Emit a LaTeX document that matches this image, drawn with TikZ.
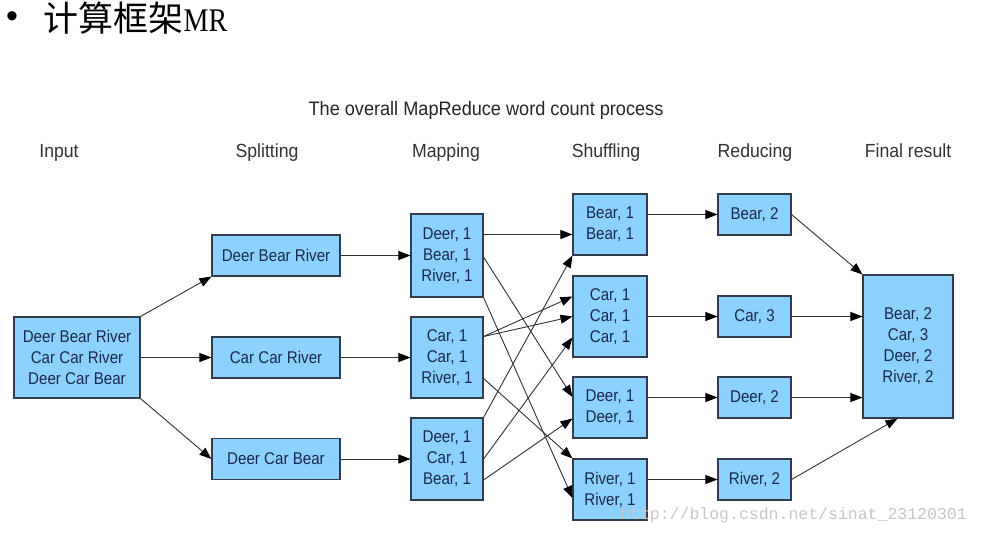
\documentclass[tikz,border=0pt]{standalone}
\usepackage{fontspec}
\setmainfont{Liberation Sans}
\newfontfamily\cjk{Noto Sans CJK SC}
\newfontfamily\mrfont[FakeStretch=0.85]{Liberation Serif}
\newfontfamily\boxfont[FakeStretch=0.89]{Liberation Sans}
\newfontfamily\hdrfont[FakeStretch=0.93]{Liberation Sans}
\newfontfamily\wmfont{Liberation Mono}
\usetikzlibrary{arrows.meta,calc}
\definecolor{boxfill}{RGB}{140,209,255}
\definecolor{boxline}{RGB}{50,60,75}
\definecolor{boxtext}{RGB}{28,40,75}
\definecolor{linec}{RGB}{50,50,50}
\begin{document}
\begin{tikzpicture}[x=1pt,y=-1pt,
  box/.style={draw=boxline, fill=boxfill, line width=1.1pt, inner sep=0pt, align=center,
    text=boxtext, font=\boxfont\fontsize{17}{21}\selectfont},
  conn/.style={draw=linec, line width=0.9pt, -{Triangle[length=12pt,width=9pt,color=black]}},
  hdr/.style={font=\hdrfont\fontsize{19}{22}\selectfont, text=black!80, inner sep=0pt, anchor=base}]
\fill[white] (0,0) rectangle (981,533);
\useasboundingbox (0,0) rectangle (981,533);

% heading
\node[inner sep=0pt, font=\fontsize{34}{34}\selectfont] (bul) at (12,20) {•};
\node[anchor=base west, inner sep=0pt, font=\cjk\fontsize{35}{35}\selectfont] (ttl) at (43,31) {计算框架};
\node[anchor=base west, inner sep=0pt, font=\mrfont\fontsize{33}{33}\selectfont] (mr) at (ttl.base east) {MR};

% titles
\node[inner sep=0pt, anchor=base, font=\hdrfont\fontsize{19.5}{22}\selectfont, text=black!85] (title) at (486,115) {The overall MapReduce word count process};
\node[hdr] (hin) at (59,157) {Input};
\node[hdr] (hsp) at (267,157) {Splitting};
\node[hdr] (hma) at (446,157) {Mapping};
\node[hdr] (hsh) at (606,157) {Shuffling};
\node[hdr] (hre) at (755,157) {Reducing};
\node[hdr] (hfi) at (908,157) {Final result};

% boxes
\node[box, minimum width=126pt, minimum height=81pt] (in) at (77,357.5) {Deer Bear River\\Car Car River\\Deer Car Bear};

\node[box, minimum width=128pt, minimum height=41pt] (s1) at (276,255.5) {Deer Bear River};
\node[box, minimum width=128pt, minimum height=41pt] (s2) at (276,357.5) {Car Car River};
\node[box, minimum width=128pt, minimum height=41pt] (s3) at (276,459) {Deer Car Bear};

\node[box, minimum width=72pt, minimum height=83pt] (m1) at (447,255.5) {Deer, 1\\Bear, 1\\River, 1};
\node[box, minimum width=72pt, minimum height=81pt] (m2) at (447,357.5) {Car, 1\\Car, 1\\River, 1};
\node[box, minimum width=72pt, minimum height=82pt] (m3) at (447,459) {Deer, 1\\Car, 1\\Bear, 1};

\node[box, minimum width=74pt, minimum height=61pt] (sh1) at (610,224.5) {Bear, 1\\Bear, 1};
\node[box, minimum width=74pt, minimum height=81pt] (sh2) at (610,316.5) {Car, 1\\Car, 1\\Car, 1};
\node[box, minimum width=74pt, minimum height=61pt] (sh3) at (610,407.5) {Deer, 1\\Deer, 1};
\node[box, minimum width=74pt, minimum height=61pt] (sh4) at (610,489.5) {River, 1\\River, 1};

\node[box, minimum width=73pt, minimum height=41pt] (r1) at (754.5,214.5) {Bear, 2};
\node[box, minimum width=73pt, minimum height=41pt] (r2) at (754.5,316.5) {Car, 3};
\node[box, minimum width=73pt, minimum height=41pt] (r3) at (754.5,397.5) {Deer, 2};
\node[box, minimum width=73pt, minimum height=41pt] (r4) at (754.5,479.5) {River, 2};

\node[box, minimum width=90pt, minimum height=143pt] (fin) at (908,346.5) {Bear, 2\\Car, 3\\Deer, 2\\River, 2};

% input -> splitting
\draw[conn] (in.north east) -- (s1.south west);
\draw[conn] (in.east) -- (s2.west);
\draw[conn] (in.south east) -- (s3.west);

% splitting -> mapping
\draw[conn] (s1.east) -- (m1.west);
\draw[conn] (s2.east) -- (m2.west);
\draw[conn] (s3.east) -- (m3.west);

% mapping -> shuffling
\coordinate (m1a) at ($(m1.east)+(0,-21)$);
\draw[conn] (m1a) -- (m1a -| sh1.west);
\draw[conn] ($(m1.east)+(0,1.5)$) -- ($(sh3.west)+(0,-10.5)$);
\draw[conn] (m1.south east) -- ($(sh4.west)+(0,8.5)$);
\draw[conn] ($(m2.east)+(0,-21)$) -- ($(sh2.west)+(0,-20)$);
\draw[conn] ($(m2.east)+(0,-21)$) -- (sh2.west);
\draw[conn] ($(m2.east)+(0,21)$) -- (sh4.north west);
\draw[conn] (m3.north east) -- (sh1.south west);
\draw[conn] (m3.east) -- ($(sh2.west)+(0,21)$);
\draw[conn] ($(m3.east)+(0,21)$) -- ($(sh3.west)+(0,11)$);

% shuffling -> reducing
\draw[conn] (sh1.east |- r1.west) -- (r1.west);
\draw[conn] (sh2.east |- r2.west) -- (r2.west);
\draw[conn] (sh3.east |- r3.west) -- (r3.west);
\draw[conn] (sh4.east |- r4.west) -- (r4.west);

% reducing -> final
\draw[conn] (r1.east) -- (fin.north west);
\draw[conn] (r2.east) -- (fin.west |- r2.east);
\draw[conn] (r3.east) -- (fin.west |- r3.east);
\draw[conn] (r4.east) -- ($(fin.south west)+(35,0)$);

% watermark
\node[anchor=base west, inner sep=0pt, text=black!22, font=\wmfont\fontsize{16.5}{16.5}\selectfont] (wm) at (620,519) {http://blog.csdn.net/sinat\_23120301};
\end{tikzpicture}
\end{document}
